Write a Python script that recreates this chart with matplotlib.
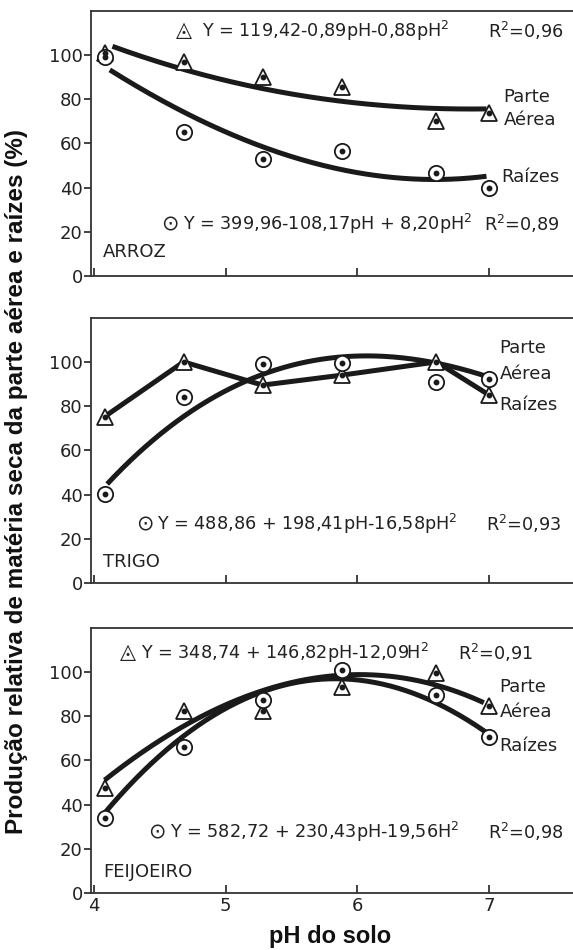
import numpy as np
import matplotlib
matplotlib.use("Agg")
import matplotlib.pyplot as plt

plt.rcParams['font.family'] = ['DejaVu Sans']

# ---------------- data ----------------
ph = [4.08, 4.68, 5.28, 5.88, 6.6, 7.0]

# ARROZ
arroz_aerea = [101, 97, 90, 85.7, 70.3, 74]
arroz_raiz = [99, 65, 52.8, 56.7, 46.4, 39.7]
arroz_aerea_curve_x = [4.14, 4.68, 5.28, 5.88, 6.6, 6.98]
arroz_aerea_curve_y = [103.8, 94, 84.5, 78.9, 76.3, 75.4]
arroz_raiz_curve_x = [4.12, 4.66, 5.28, 5.86, 6.6, 6.98]
arroz_raiz_curve_y = [93.2, 75.1, 58.5, 48, 44.2, 44.9]

# TRIGO
trigo_aerea = [75.3, 100.1, 89.6, 94.1, 100.1, 85.1]
trigo_raiz = [40.1, 84.3, 99.1, 99.8, 90.8, 92.3]
trigo_raiz_curve_x = [4.1, 4.69, 5.26, 5.89, 6.15, 6.57, 7.0]
trigo_raiz_curve_y = [44.3, 77.5, 92.6, 101.7, 103.2, 101, 92.6]

# FEIJOEIRO
feij_aerea = [47.4, 82.5, 82.5, 93.4, 99.4, 84.6]
feij_raiz = [33.8, 65.9, 87.3, 100.9, 89.6, 70.7]
feij_aerea_curve_x = [4.08, 4.68, 5.29, 5.88, 6.6, 6.96]
feij_aerea_curve_y = [51.1, 75.3, 92.6, 97.6, 94.9, 85.8]
feij_raiz_curve_x = [4.08, 4.68, 5.29, 5.88, 6.6, 7.0]
feij_raiz_curve_y = [36, 71.5, 91.1, 96.6, 86.6, 71.5]

yticks = [0, 20, 40, 60, 80, 100]
xticks = [4, 5, 6, 7]

TRI = '\u25EC'   # triangle with dot
CIR = '\u2299'   # circled dot

# ---------------- figure ----------------
fig = plt.figure(figsize=(5.73, 9.5), dpi=100)
LEFT, WIDTH, HEIGHT = 0.1588, 0.8412, 0.279
bottoms = [0.7095, 0.3863, 0.06]
axes = [fig.add_axes([LEFT, b, WIDTH, HEIGHT]) for b in bottoms]

LC = '#1a1a1a'
TC = '#222222'
FS = 13
FS_EQ = 12.7
SYM = 15


def style(ax, show_xlabels):
    ax.set_xlim(3.977, 7.637)
    ax.set_ylim(0, 120)
    ax.set_yticks(yticks)
    ax.set_xticks(xticks)
    for s in ['left', 'bottom', 'top']:
        ax.spines[s].set_linewidth(1.3)
        ax.spines[s].set_color('#333333')
    ax.spines['right'].set_visible(False)
    ax.tick_params(axis='y', direction='out', length=5, width=1.2,
                   labelsize=FS, pad=1, colors=TC)
    ax.tick_params(axis='x', direction='in', length=6, width=1.2,
                   labelsize=FS, pad=3, colors=TC)
    if not show_xlabels:
        ax.set_xticklabels([])


def points(ax, y, kind):
    mk = '^' if kind == 'tri' else 'o'
    ax.plot(ph, y, linestyle='none', marker=mk, markersize=11,
            markerfacecolor='white', markeredgecolor=LC, markeredgewidth=1.3, zorder=4)
    ax.plot(ph, y, linestyle='none', marker='o', markersize=3.2,
            color=LC, zorder=5)


def curve(ax, cx, cy, deg=3):
    c = np.polyfit(cx, cy, deg)
    xs = np.linspace(min(cx), max(cx), 200)
    ax.plot(xs, np.polyval(c, xs), color=LC, linewidth=3.6,
            solid_capstyle='butt', zorder=3)


def txt(ax, x, y, s, size=FS):
    ax.text(x, y, s, fontsize=size, va='center', ha='left', color=TC)


def sym(ax, x, y, s):
    ax.text(x, y, s, fontsize=SYM, va='center', ha='center', color=TC)


# ---- ARROZ ----
ax = axes[0]
style(ax, False)
curve(ax, arroz_aerea_curve_x, arroz_aerea_curve_y)
curve(ax, arroz_raiz_curve_x, arroz_raiz_curve_y)
points(ax, arroz_aerea, 'tri')
points(ax, arroz_raiz, 'cir')
sym(ax, 4.68, 111.5, TRI)
txt(ax, 4.82, 110.9, 'Y = 119,42-0,89pH-0,88pH$^2$', FS_EQ)
txt(ax, 6.99, 110.9, 'R$^2$=0,96', FS_EQ)
sym(ax, 4.575, 23.5, CIR)
txt(ax, 4.675, 23.5, 'Y = 399,96-108,17pH + 8,20pH$^2$', FS_EQ)
txt(ax, 6.96, 23.5, 'R$^2$=0,89', FS_EQ)
txt(ax, 4.07, 10.9, 'ARROZ')
txt(ax, 7.11, 81, 'Parte')
txt(ax, 7.11, 70.6, 'Aérea')
txt(ax, 7.09, 44.9, 'Raízes')

# ---- TRIGO ----
ax = axes[1]
style(ax, False)
ax.plot(ph, trigo_aerea, color=LC, linewidth=3.6, zorder=3)
curve(ax, trigo_raiz_curve_x, trigo_raiz_curve_y)
points(ax, trigo_aerea, 'tri')
points(ax, trigo_raiz, 'cir')
sym(ax, 4.387, 26.7, CIR)
txt(ax, 4.478, 26.7, 'Y = 488,86 + 198,41pH-16,58pH$^2$', FS_EQ)
txt(ax, 6.98, 26.7, 'R$^2$=0,93', FS_EQ)
txt(ax, 4.07, 9.5, 'TRIGO')
txt(ax, 7.08, 106.3, 'Parte')
txt(ax, 7.08, 94.6, 'Aérea')
txt(ax, 7.08, 80.5, 'Raízes')

# ---- FEIJOEIRO ----
ax = axes[2]
style(ax, True)
curve(ax, feij_aerea_curve_x, feij_aerea_curve_y)
curve(ax, feij_raiz_curve_x, feij_raiz_curve_y)
points(ax, feij_aerea, 'tri')
points(ax, feij_raiz, 'cir')
sym(ax, 4.258, 109.2, TRI)
txt(ax, 4.36, 108.6, 'Y = 348,74 + 146,82pH-12,09H$^2$', FS_EQ)
txt(ax, 6.76, 108.6, 'R$^2$=0,91', FS_EQ)
sym(ax, 4.478, 27.6, CIR)
txt(ax, 4.577, 27.6, 'Y = 582,72 + 230,43pH-19,56H$^2$', FS_EQ)
txt(ax, 6.99, 27.6, 'R$^2$=0,98', FS_EQ)
txt(ax, 4.07, 9.5, 'FEIJOEIRO')
txt(ax, 7.08, 93.2, 'Parte')
txt(ax, 7.08, 81.9, 'Aérea')
txt(ax, 7.08, 66.5, 'Raízes')

fig.text(0.576, 0.0075, 'pH do solo', fontsize=17, fontweight='bold',
         family=['Liberation Sans', 'DejaVu Sans'], ha='center', va='baseline',
         color='#111111')
fig.text(0.028, 0.4932, 'Produção relativa de matéria seca da parte aérea e raízes (%)',
         rotation=90, fontsize=17.5, fontweight='bold',
         family=['Liberation Sans', 'DejaVu Sans'],
         ha='center', va='center', color='#111111')

fig.savefig('out.png', dpi=100, facecolor='white')
